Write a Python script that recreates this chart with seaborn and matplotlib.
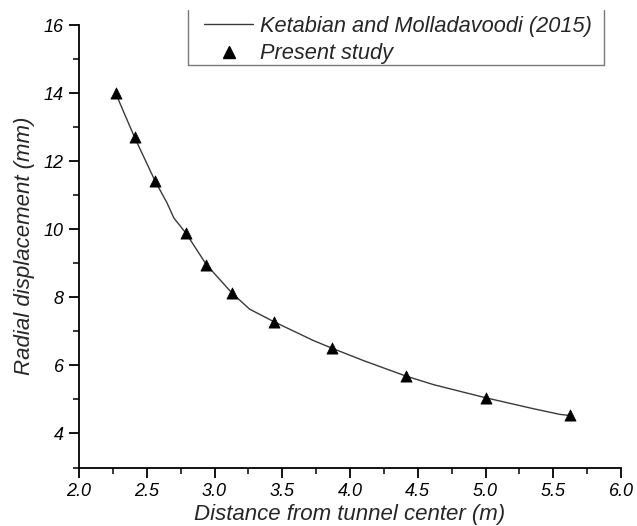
import matplotlib
matplotlib.use("Agg")
import matplotlib.pyplot as plt
from matplotlib.lines import Line2D
from matplotlib.ticker import MultipleLocator, FormatStrFormatter
import seaborn as sns
import pandas as pd

# Ketabian and Molladavoodi (2015) curve
ref_x = [2.27, 2.41, 2.56, 2.65, 2.70, 2.79, 2.94, 3.13, 3.26, 3.44, 3.73, 3.87,
         4.10, 4.41, 4.62, 5.00, 5.35, 5.55, 5.62]
ref_y = [14.0, 12.7, 11.43, 10.77, 10.33, 9.88, 8.96, 8.12, 7.65, 7.28, 6.73, 6.50,
         6.14, 5.69, 5.43, 5.05, 4.73, 4.56, 4.53]
# Present study
pres_x = [2.27, 2.41, 2.56, 2.79, 2.94, 3.13, 3.44, 3.87, 4.41, 5.00, 5.62]
pres_y = [14.0, 12.7, 11.43, 9.88, 8.96, 8.12, 7.28, 6.50, 5.69, 5.05, 4.53]

label_ref = "Ketabian and Molladavoodi (2015)"
label_pres = "Present study"
xlabel = "Distance from tunnel center (m)"
ylabel = "Radial displacement (mm)"

sns.set_style("ticks")
plt.rcParams["font.family"] = ["Liberation Sans", "DejaVu Sans"]
plt.rcParams["font.style"] = "italic"

fig = plt.figure(figsize=(6.37, 5.26), dpi=100)
W, H = 637, 526
ax = fig.add_axes([79 / W, 1 - 467.5 / H, (621 - 79) / W, (467.5 - 25) / H])

df_ref = pd.DataFrame({"x": ref_x, "y": ref_y})
df_pres = pd.DataFrame({"x": pres_x, "y": pres_y})

sns.lineplot(data=df_ref, x="x", y="y", ax=ax, color="#3a3a3a", linewidth=1.0,
             sort=False, estimator=None)
sns.scatterplot(data=df_pres, x="x", y="y", ax=ax, marker="^", color="black",
                s=65, edgecolor="black", linewidth=0.5, zorder=3)

ax.set_xlim(2.0, 6.0)
ax.xaxis.set_major_locator(MultipleLocator(0.5))
ax.xaxis.set_minor_locator(MultipleLocator(0.25))
ax.yaxis.set_minor_locator(MultipleLocator(1))
ax.xaxis.set_major_formatter(FormatStrFormatter("%.1f"))
ax.set_yticks([4, 6, 8, 10, 12, 14, 16])
ax.set_ylim(3, 16)

for s in ["top", "right"]:
    ax.spines[s].set_visible(False)
for s in ["left", "bottom"]:
    ax.spines[s].set_linewidth(1.3)
    ax.spines[s].set_color("black")

ax.tick_params(which="major", direction="out", length=7, width=1.3, labelsize=13,
               colors="black", pad=4)
ax.tick_params(which="minor", direction="out", length=4, width=1.3)

ax.set_xlabel(xlabel, fontsize=16, style="italic", labelpad=3)
ax.set_ylabel(ylabel, fontsize=16, style="italic", labelpad=6)

# legend (frame drawn manually: top edge lies outside the figure)
handles = [Line2D([], [], color="#3a3a3a", linewidth=1.0),
           Line2D([], [], marker="^", color="black", linestyle="none", markersize=8)]
leg = fig.legend(handles, [label_ref, label_pres], loc="center left",
                 bbox_to_anchor=(204 / W, 1 - 40 / H), frameon=False,
                 prop={"size": 15.7, "style": "italic"}, handlelength=2.25,
                 handletextpad=0.3, labelspacing=0.3, borderpad=0.0,
                 borderaxespad=0.0)
frame_kw = dict(color="#7a7a7a", linewidth=1.0, transform=fig.transFigure)
fig.add_artist(Line2D([188 / W, 188 / W], [1 - 65 / H, 1 - 10 / H], **frame_kw))
fig.add_artist(Line2D([188 / W, 604 / W], [1 - 65 / H, 1 - 65 / H], **frame_kw))
fig.add_artist(Line2D([604 / W, 604 / W], [1 - 65 / H, 1 - 10 / H], **frame_kw))

fig.savefig("out.png", dpi=100)
